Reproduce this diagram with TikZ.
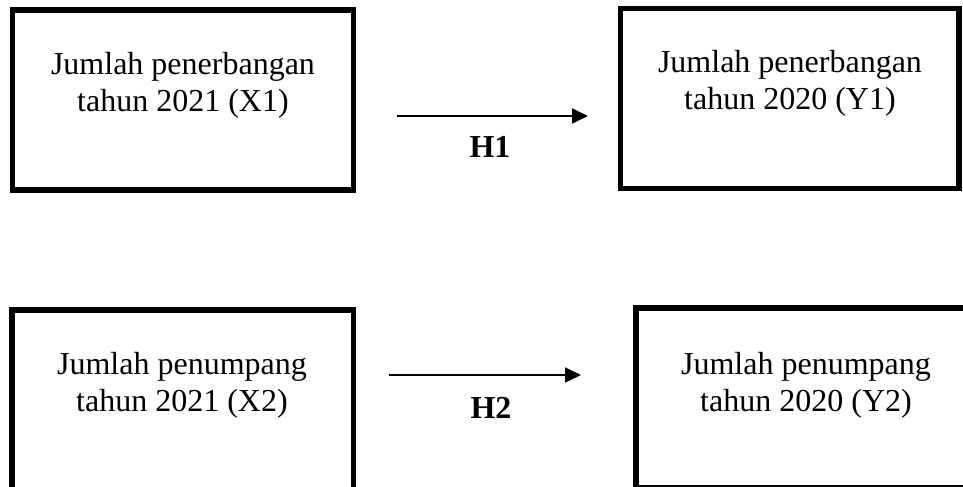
\documentclass[tikz,border=0pt]{standalone}
\usepackage{fontspec}
\setmainfont{Liberation Serif}
\usetikzlibrary{arrows.meta}
\begin{document}
\begin{tikzpicture}[
  x=0.375pt, y=-0.375pt,
  kotak/.style={draw, line width=1.9pt, minimum width=127.9pt, minimum height=67.5pt, inner sep=0pt},
  teks/.style={align=center, inner sep=0pt, font=\fontsize{12pt}{13.8pt}\selectfont},
  hipotesis/.style={inner sep=0pt, font=\fontsize{12pt}{13.8pt}\selectfont\bfseries},
  panah/.style={-{Triangle[length=6pt, width=5.6pt]}, line width=0.75pt}
]
\useasboundingbox (0,0) rectangle (963,487);

\node[kotak] (x1) at (183,100) {};
\node[kotak, minimum width=127.1pt] (y1) at (789.5,98.5) {};
\node[kotak] (x2) at (182.5,400) {};
\node[kotak, minimum width=127.5pt] (y2) at (806,398) {};

\node[teks] (x1txt) at (183,85) {Jumlah penerbangan\\tahun 2021 (X1)};
\node[teks] (y1txt) at (790,83.5) {Jumlah penerbangan\\tahun 2020 (Y1)};
\node[teks] (x2txt) at (182,385.5) {Jumlah penumpang\\tahun 2021 (X2)};
\node[teks] (y2txt) at (806,385) {Jumlah penumpang\\tahun 2020 (Y2)};

\coordinate (h1awal) at (397,116);
\coordinate (h1akhir) at (588,116);
\coordinate (h2awal) at (389,375);
\coordinate (h2akhir) at (581,375);

\draw[panah] (h1awal) -- (h1akhir);
\draw[panah] (h2awal) -- (h2akhir);

\node[hipotesis] (h1) at (490,146.5) {H1};
\node[hipotesis] (h2) at (491,407.5) {H2};

\end{tikzpicture}
\end{document}
